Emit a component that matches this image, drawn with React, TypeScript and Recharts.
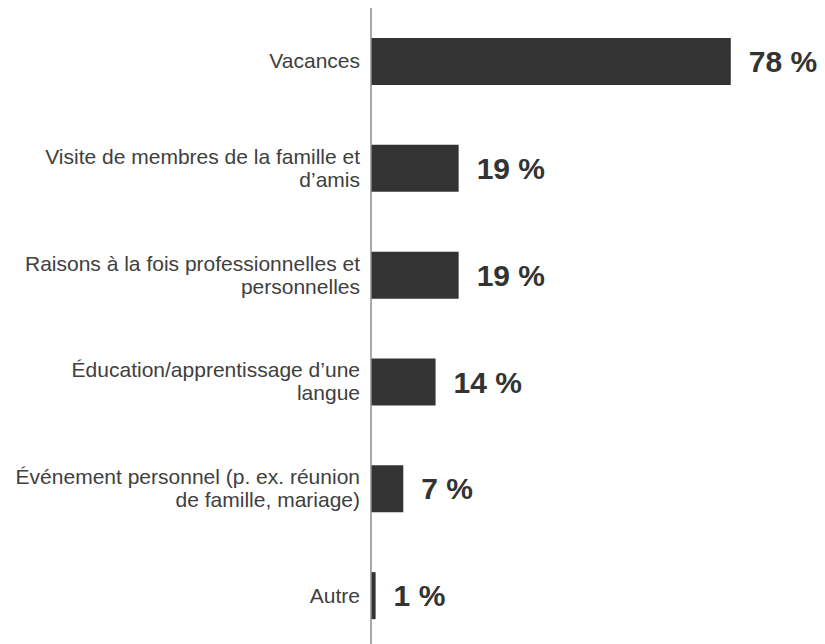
import React from "react";
import { BarChart, Bar, XAxis, YAxis, LabelList } from "recharts";

const categories: string[] = [
  "Vacances",
  "Visite de membres de la famille et\nd’amis",
  "Raisons à la fois professionnelles et\npersonnelles",
  "Éducation/apprentissage d’une\nlangue",
  "Événement personnel (p. ex. réunion\nde famille, mariage)",
  "Autre",
];
const values: number[] = [78, 19, 19, 14, 7, 1];

const data = categories.map((c, i) => ({ name: c, value: values[i] }));

const FONT = "'Liberation Sans', Arial, sans-serif";

const CategoryTick = (props: any) => {
  const { x, y, payload } = props;
  const lines: string[] = String(payload.value).split("\n");
  const lh = 23;
  const startDy = -((lines.length - 1) * lh) / 2;
  return (
    <text
      x={x}
      y={y}
      textAnchor="end"
      fontFamily={FONT}
      fontSize={21}
      fill="#404040"
    >
      {lines.map((l, i) => (
        <tspan key={i} x={x} dy={i === 0 ? startDy + 7 : lh}>
          {l}
        </tspan>
      ))}
    </text>
  );
};

export default function App() {
  return (
    <div
      style={{
        position: "fixed",
        left: 0,
        top: 0,
        width: 825,
        height: 644,
        overflow: "hidden",
        background: "#fff",
      }}
    >
      <BarChart
        width={825}
        height={649}
        data={data}
        layout="vertical"
        margin={{ top: 8, right: 85, bottom: 0, left: 0 }}
        barSize={47}
      >
        <XAxis type="number" domain={[0, 80]} hide />
        <YAxis
          type="category"
          dataKey="name"
          width={371}
          axisLine={{ stroke: "#8c8c8c", strokeWidth: 1.5 }}
          tickLine={false}
          tick={<CategoryTick />}
          tickMargin={5}
          interval={0}
        />
        <Bar dataKey="value" fill="#333333" isAnimationActive={false}>
          <LabelList
            dataKey="value"
            position="right"
            offset={18}
            formatter={(v: any) => `${v} %`}
            style={{
              fontFamily: FONT,
              fontSize: 30,
              fontWeight: "bold",
              fill: "#333333",
            }}
          />
        </Bar>
      </BarChart>
    </div>
  );
}
